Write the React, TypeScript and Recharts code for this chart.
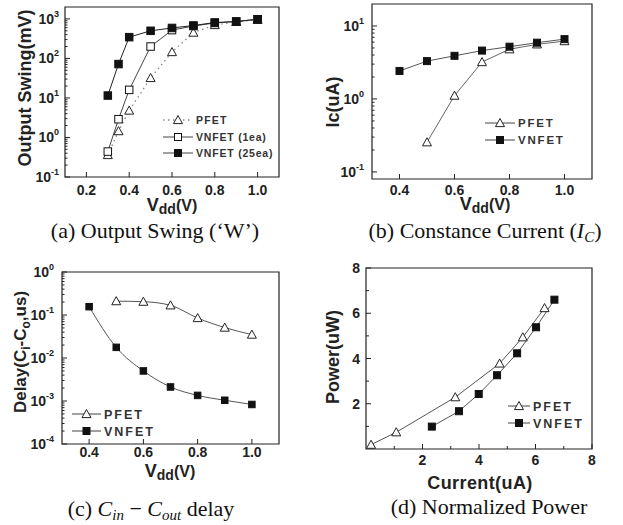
import React from 'react';
import { LineChart, Line, XAxis, YAxis, ReferenceArea } from 'recharts';

const SANS = '"Liberation Sans", Arial, sans-serif';
const SERIF = '"Liberation Serif", "Times New Roman", serif';
const INK = '#222';
const TM = 10; // tickMargin, lets the custom ticks find the axis line again

// (a) output swing vs Vdd
const VDD_A = [0.3, 0.35, 0.4, 0.5, 0.6, 0.7, 0.8, 0.9, 1.0];
const SWING_PFET = [0.36, 1.45, 4.8, 32, 145, 450, 700, 840, 950];
const SWING_VN1 = [0.44, 2.9, 16, 200, 520, 660, 790, 860, 980];
const SWING_VN25 = [11.5, 72, 345, 500, 590, 680, 810, 855, 980];

// (b) constance current
const VDD_B_PFET = [0.5, 0.6, 0.7, 0.8, 0.9, 1.0];
const IC_PFET = [0.255, 1.11, 3.2, 4.8, 5.6, 6.2];
const VDD_B_VN = [0.4, 0.5, 0.6, 0.7, 0.8, 0.9, 1.0];
const IC_VN = [2.42, 3.3, 3.9, 4.6, 5.2, 5.9, 6.6];

// (c) Cin - Cout delay
const VDD_C_PFET = [0.5, 0.6, 0.7, 0.8, 0.9, 1.0];
const DELAY_PFET = [0.21, 0.204, 0.168, 0.085, 0.051, 0.035];
const VDD_C_VN = [0.4, 0.5, 0.6, 0.7, 0.8, 0.9, 1.0];
const DELAY_VN = [0.156, 0.0177, 0.005, 0.00212, 0.00135, 0.00104, 0.00083];

// (d) normalized power
const CUR_PFET = [0.18, 1.07, 3.16, 4.73, 5.55, 6.32];
const PWR_PFET = [0.19, 0.74, 2.29, 3.78, 4.94, 6.23];
const CUR_VN = [2.33, 3.29, 3.99, 4.64, 5.35, 6.02, 6.67];
const PWR_VN = [0.99, 1.67, 2.43, 3.26, 4.23, 5.38, 6.6];

const VDD_TICKS_A = [0.2, 0.4, 0.6, 0.8, 1.0];
const VDD_TICKS = [0.4, 0.6, 0.8, 1.0];
const LIN_TICKS_D = [1, 2, 3, 4, 5, 6, 7, 8];

const AXW = 50; // y axis width
const AXH = 40; // x axis height

const zip = (xs: number[], ys: number[]) => xs.map((x, i) => ({ x, y: ys[i] }));

// decade ticks plus the 2..9 minor ticks between them
const logTicks = (lo: number, hi: number) => {
  const out: number[] = [];
  for (let e = lo; e < hi; e++) for (let m = 1; m < 10; m++) out.push(m * Math.pow(10, e));
  out.push(Math.pow(10, hi));
  return out;
};

const triPts = (cx: number, cy: number, s: number) =>
  `${cx},${cy - s} ${cx - s},${cy + s * 0.8} ${cx + s},${cy + s * 0.8}`;

const triDot = (s: number) => (p: any) => (
  <polygon key={p.index} points={triPts(p.cx, p.cy, s)} fill="#fff" stroke={INK} strokeWidth={1} />
);
const sqDot = (s: number, filled: boolean) => (p: any) => (
  <rect key={p.index} x={p.cx - s / 2} y={p.cy - s / 2} width={s} height={s}
    fill={filled ? '#111' : '#fff'} stroke="#111" strokeWidth={1} />
);

function logYTick(gap: number) {
  return (p: any) => {
    const { x, y, payload } = p;
    const lg = Math.log10(payload.value);
    const e = Math.round(lg);
    const major = Math.abs(lg - e) < 1e-6;
    const ax = x + TM;
    return (
      <g>
        <line x1={ax} x2={ax + (major ? 5 : 2.5)} y1={y} y2={y} stroke={INK} />
        {major && (
          <text x={ax - gap} y={y + 5} textAnchor="end" fontFamily={SANS} fontWeight="bold" fontSize={14} fill={INK}>
            10<tspan dy={-7} fontSize={9}>{e}</tspan>
          </text>
        )}
      </g>
    );
  };
}

function linYTick(gap: number) {
  return (p: any) => {
    const { x, y, payload } = p;
    const v = payload.value;
    const major = v % 2 === 0;
    const ax = x + TM;
    return (
      <g>
        <line x1={ax} x2={ax + (major ? 5 : 3)} y1={y} y2={y} stroke={INK} />
        {major && (
          <text x={ax - gap} y={y + 5} textAnchor="end" fontFamily={SANS} fontWeight="bold" fontSize={14} fill={INK}>
            {v}
          </text>
        )}
      </g>
    );
  };
}

function xTick(base: number, fmt: (v: number) => string) {
  return (p: any) => {
    const { x, y, payload } = p;
    const ay = y - TM;
    const label = fmt(payload.value);
    return (
      <g>
        <line x1={x} x2={x} y1={ay} y2={ay - (label ? 5 : 3)} stroke={INK} />
        {label && (
          <text x={x} y={ay + base} textAnchor="middle" fontFamily={SANS} fontWeight="bold" fontSize={14} fill={INK}>
            {label}
          </text>
        )}
      </g>
    );
  };
}

const fmt1 = (v: number) => v.toFixed(1);
const fmtEven = (v: number) => (v % 2 === 0 ? String(v) : '');

function box(x: [number, number], y: [number, number]) {
  return (
    <ReferenceArea x1={x[0]} x2={x[1]} y1={y[0]} y2={y[1]} fill="none" fillOpacity={0}
      stroke={INK} strokeWidth={1.2} strokeOpacity={1} ifOverflow="visible" />
  );
}

function LegendRow({ x, y, w, mark, label, fs, ls, dash }: any) {
  const cx = x + w / 2;
  return (
    <g>
      <line x1={x} x2={x + w} y1={y} y2={y} stroke="#444" strokeDasharray={dash} />
      {mark === 'tri' && <polygon points={triPts(cx, y, 4.5)} fill="#fff" stroke={INK} />}
      {mark === 'sq' && <rect x={cx - 3.5} y={y - 3.5} width={7} height={7} fill="#fff" stroke="#111" />}
      {mark === 'fsq' && <rect x={cx - 3.5} y={y - 3.5} width={7} height={7} fill="#111" stroke="#111" />}
      <text x={x + w + 3} y={y + fs * 0.36} fontFamily={SANS} fontWeight="bold" fontSize={fs} letterSpacing={ls} fill="#333">
        {label}
      </text>
    </g>
  );
}

const titleStyle = { fontFamily: SANS, fontWeight: 'bold' as const, fill: INK };

function VddLabel({ x, y }: { x: number; y: number }) {
  return (
    <text x={x} y={y} textAnchor="middle" fontSize={18} {...titleStyle}>
      V<tspan fontSize={14} dy={3}>dd</tspan><tspan dy={-3} fontSize={16}>(V)</tspan>
    </text>
  );
}

const axisCommon = {
  axisLine: false,
  tickLine: false,
  tickSize: 0,
  tickMargin: TM,
  interval: 0 as const,
  allowDataOverflow: true,
};

export default function App() {
  return (
    <div style={{ position: 'absolute', left: 0, top: 0, width: 623, height: 525, background: '#fff', overflow: 'hidden' }}>
      {/* (a) */}
      <div style={{ position: 'absolute', left: 0, top: 0 }}>
        <LineChart width={310} height={250} margin={{ top: 7, left: 65 - AXW, right: 31, bottom: 73 - AXH }}>
          <XAxis type="number" dataKey="x" domain={[0.1, 1.1]} ticks={VDD_TICKS_A} height={AXH}
            {...axisCommon} tick={xTick(18, fmt1)} />
          <YAxis type="number" scale="log" domain={[0.1, 2000]} ticks={logTicks(-1, 3)} width={AXW}
            {...axisCommon} tick={logYTick(6)} />
          {box([0.1, 1.1], [0.1, 2000])}
          <Line data={zip(VDD_A, SWING_PFET)} dataKey="y" stroke="#888" strokeWidth={1.3} strokeDasharray="1.5 3.5"
            dot={triDot(4.5)} isAnimationActive={false} />
          <Line data={zip(VDD_A, SWING_VN1)} dataKey="y" stroke="#444" strokeWidth={1} dot={sqDot(7.5, false)} isAnimationActive={false} />
          <Line data={zip(VDD_A, SWING_VN25)} dataKey="y" stroke="#222" strokeWidth={1} dot={sqDot(7.5, true)} isAnimationActive={false} />
        </LineChart>
      </div>

      {/* (b) */}
      <div style={{ position: 'absolute', left: 310, top: 0 }}>
        <LineChart width={313} height={250} margin={{ top: 4, left: 62 - AXW, right: 31, bottom: 71 - AXH }}>
          <XAxis type="number" dataKey="x" domain={[0.3, 1.1]} ticks={VDD_TICKS} height={AXH}
            {...axisCommon} tick={xTick(16, fmt1)} />
          <YAxis type="number" scale="log" domain={[0.08, 20]} ticks={logTicks(-1, 1)} width={AXW}
            {...axisCommon} tick={logYTick(8)} />
          {box([0.3, 1.1], [0.08, 20])}
          <Line data={zip(VDD_B_PFET, IC_PFET)} dataKey="y" stroke="#666" strokeWidth={1} dot={triDot(4.5)} isAnimationActive={false} />
          <Line data={zip(VDD_B_VN, IC_VN)} dataKey="y" stroke="#555" strokeWidth={1} dot={sqDot(7, true)} isAnimationActive={false} />
        </LineChart>
      </div>

      {/* (c) */}
      <div style={{ position: 'absolute', left: 0, top: 260 }}>
        <LineChart width={310} height={265} margin={{ top: 12, left: 62 - AXW, right: 31, bottom: 81 - AXH }}>
          <XAxis type="number" dataKey="x" domain={[0.3, 1.1]} ticks={VDD_TICKS} height={AXH}
            {...axisCommon} tick={xTick(13, fmt1)} />
          <YAxis type="number" scale="log" domain={[0.0001, 1]} ticks={logTicks(-4, 0)} width={AXW}
            {...axisCommon} tick={logYTick(8)} />
          {box([0.3, 1.1], [0.0001, 1])}
          <Line data={zip(VDD_C_PFET, DELAY_PFET)} dataKey="y" type="monotone" stroke="#555" strokeWidth={1}
            dot={triDot(4.5)} isAnimationActive={false} />
          <Line data={zip(VDD_C_VN, DELAY_VN)} dataKey="y" type="monotone" stroke="#555" strokeWidth={1}
            dot={sqDot(6.5, true)} isAnimationActive={false} />
        </LineChart>
      </div>

      {/* (d) */}
      <div style={{ position: 'absolute', left: 310, top: 260 }}>
        <LineChart width={313} height={265} margin={{ top: 8, left: 56 - AXW, right: 31, bottom: 76 - AXH }}>
          <XAxis type="number" dataKey="x" domain={[0, 8]} ticks={LIN_TICKS_D} height={AXH}
            {...axisCommon} tick={xTick(16, fmtEven)} />
          <YAxis type="number" domain={[0, 8]} ticks={LIN_TICKS_D} width={AXW}
            {...axisCommon} tick={linYTick(6)} />
          {box([0, 8], [0, 8])}
          <Line data={zip(CUR_PFET, PWR_PFET)} dataKey="y" stroke="#555" strokeWidth={1} dot={triDot(4.5)} isAnimationActive={false} />
          <Line data={zip(CUR_VN, PWR_VN)} dataKey="y" stroke="#555" strokeWidth={1} dot={sqDot(7, true)} isAnimationActive={false} />
        </LineChart>
      </div>

      {/* titles, legends and captions */}
      <svg width={623} height={525} style={{ position: 'absolute', left: 0, top: 0, pointerEvents: 'none' }}>
        {/* (a) */}
        <text transform="translate(25,88) rotate(-90)" y={6} textAnchor="middle" fontSize={18} {...titleStyle}>Output Swing(mV)</text>
        <VddLabel x={172} y={211} />
        <LegendRow x={163} y={120} w={30} mark="tri" label="PFET" fs={10.5} ls={1.2} dash="1.5 3.5" />
        <LegendRow x={163} y={137} w={30} mark="sq" label="VNFET (1ea)" fs={10.5} ls={0.8} />
        <LegendRow x={163} y={153} w={30} mark="fsq" label="VNFET (25ea)" fs={10.5} ls={0.8} />
        <text x={155} y={238} textAnchor="middle" fontFamily={SERIF} fontSize={22} fill="#111">(a) Output Swing (‘W’)</text>

        {/* (b) */}
        <text transform="translate(333,102) rotate(-90)" y={6} textAnchor="middle" fontSize={18} {...titleStyle}>Ic(uA)</text>
        <VddLabel x={485} y={210} />
        <LegendRow x={485} y={123} w={30} mark="tri" label="PFET" fs={11.5} ls={1.8} />
        <LegendRow x={485} y={140} w={30} mark="fsq" label="VNFET" fs={11.5} ls={1.8} />
        <text x={485} y={238} textAnchor="middle" fontFamily={SERIF} fontSize={22} fill="#111">
          (b) Constance Current (<tspan fontStyle="italic">I</tspan><tspan fontStyle="italic" fontSize={15} dy={4}>C</tspan><tspan dy={-4}>)</tspan>
        </text>

        {/* (c) */}
        <text transform="translate(20,352) rotate(-90)" y={6} textAnchor="middle" fontSize={17} {...titleStyle}>
          Delay(C<tspan fontSize={12} dy={4}>i</tspan><tspan dy={-4}>-C</tspan><tspan fontSize={12} dy={4}>o</tspan><tspan dy={-4}>,us)</tspan>
        </text>
        <VddLabel x={170} y={477} />
        <LegendRow x={72} y={414} w={29} mark="tri" label="PFET" fs={12.5} ls={2} />
        <LegendRow x={72} y={431} w={29} mark="fsq" label="VNFET" fs={12.5} ls={2} />
        <text x={151} y={516} textAnchor="middle" fontFamily={SERIF} fontSize={22} fill="#111">
          (c) <tspan fontStyle="italic">C</tspan><tspan fontStyle="italic" fontSize={15} dy={4}>in</tspan>
          <tspan dy={-4}> − </tspan><tspan fontStyle="italic">C</tspan><tspan fontStyle="italic" fontSize={15} dy={4}>out</tspan>
          <tspan dy={-4}> delay</tspan>
        </text>

        {/* (d) */}
        <text transform="translate(333,357) rotate(-90)" y={6} textAnchor="middle" fontSize={18} {...titleStyle}>Power(uW)</text>
        <text x={480} y={489} textAnchor="middle" fontSize={18} letterSpacing={0.4} {...titleStyle}>Current(uA)</text>
        <LegendRow x={508} y={406} w={22} mark="tri" label="PFET" fs={12.5} ls={2} />
        <LegendRow x={508} y={423} w={22} mark="fsq" label="VNFET" fs={12.5} ls={2} />
        <text x={489} y={514} textAnchor="middle" fontFamily={SERIF} fontSize={22} fill="#111">(d) Normalized Power</text>
      </svg>
    </div>
  );
}
